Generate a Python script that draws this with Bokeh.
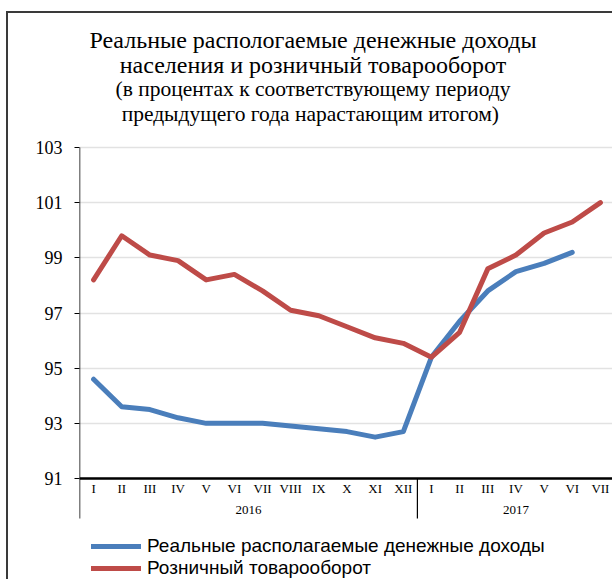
from bokeh.plotting import figure
from bokeh.models import (FactorRange, Range1d, FixedTicker, Legend, LegendItem,
                          ColumnDataSource)
from bokeh.embed import file_html
from bokeh.resources import INLINE
from bokeh.core.properties import value

# ---------------- data ----------------
years = ["2016"] * 12 + ["2017"] * 7
months = ["I", "II", "III", "IV", "V", "VI", "VII", "VIII", "IX", "X", "XI", "XII",
          "I", "II", "III", "IV", "V", "VI", "VII"]
income = [94.6, 93.6, 93.5, 93.2, 93.0, 93.0, 93.0, 92.9, 92.8, 92.7, 92.5, 92.7,
          95.4, 96.7, 97.8, 98.5, 98.8, 99.2]
retail = [98.2, 99.8, 99.1, 98.9, 98.2, 98.4, 97.8, 97.1, 96.9, 96.5, 96.1, 95.9,
          95.4, 96.3, 98.6, 99.1, 99.9, 100.3, 101.0]
y_ticks = [91, 93, 95, 97, 99, 101, 103]
year_labels = ["2016", "2017"]
title_lines = ["Реальные распологаемые денежные доходы",
               "населения и розничный товарооборот"]
subtitle_lines = ["(в процентах к соответствующему периоду",
                  "предыдущего года  нарастающим итогом)"]
legend_labels = ["Реальные располагаемые денежные доходы", "Розничный товарооборот"]

factors = list(zip(years, months))

# ---------------- geometry (page pixels) ----------------
OX, OY = 8, 13             # canvas origin on the page (after css border)
W, H = 614 - OX, 581 - OY
FRAME_L = 79               # page x of plot left edge
Y_TOP_PX, Y_BOT_PX = 147, 478   # page y of 103 and 91
ppu = (Y_BOT_PX - Y_TOP_PX) / (y_ticks[-1] - y_ticks[0])
y_end = y_ticks[-1] + (Y_TOP_PX - OY) / ppu
y_start = y_ticks[0] - (OY + H - Y_BOT_PX) / ppu
n = len(factors)
cat_px = (OX + W - FRAME_L) / n


def px_x(page_x):
    return (page_x - FRAME_L) / cat_px


def px_y(page_y):
    return y_ticks[-1] - (page_y - Y_TOP_PX) / ppu


x_range = FactorRange(factors=factors, factor_padding=0, group_padding=0,
                      subgroup_padding=0, range_padding=0)

p = figure(width=W, height=H, x_range=x_range, y_range=Range1d(y_start, y_end),
           output_backend="svg", toolbar_location=None,
           min_border_left=FRAME_L - OX, min_border_right=0,
           min_border_top=0, min_border_bottom=0)
p.styles = {"border-left": "2px solid #3a3a3a", "border-top": "2px solid #3a3a3a",
            "margin-top": "11px", "margin-left": "6px"}
p.outline_line_color = None
p.background_fill_color = "white"
p.border_fill_color = "white"

serif = "Liberation Serif"

# y axis
p.yaxis.ticker = FixedTicker(ticks=y_ticks)
p.yaxis.axis_line_color = None
p.yaxis.major_tick_out = 5
p.yaxis.major_tick_in = 0
p.yaxis.major_tick_line_color = "black"
p.yaxis.minor_tick_line_color = None
p.yaxis.major_label_text_font = serif
p.yaxis.major_label_text_font_size = "18px"
p.yaxis.major_label_text_color = "black"
p.yaxis.major_label_standoff = 12

p.ygrid.grid_line_color = "#e2e2e2"
p.ygrid.grid_line_width = 1.3
p.xgrid.grid_line_color = None

# x axis
xa = p.xaxis[0]
xa.fixed_location = y_ticks[0]
xa.axis_line_color = "black"
xa.axis_line_width = 2.5
xa.major_tick_line_color = None
xa.major_tick_out = 0
xa.major_tick_in = 0
xa.major_label_text_font = serif
xa.major_label_text_font_size = "13px"
xa.major_label_text_color = "black"
xa.major_label_standoff = 2
xa.group_text_color = None
xa.separator_line_color = None

# year (group) labels, placed at the group factor
p.text(x=year_labels, y=[px_y(509)] * len(year_labels), text=year_labels,
       text_font=value(serif), text_font_size="13px", text_color="black",
       text_align="center", text_baseline="middle")

# vertical axis line and group separators
sep_bottom = px_y(518)
n2016 = years.count("2016")
p.segment(x0=[0], y0=[sep_bottom], x1=[0], y1=[y_ticks[-1]], line_color="black",
          line_width=1.5)
p.segment(x0=[n2016], y0=[sep_bottom], x1=[n2016], y1=[y_ticks[0]],
          line_color="black", line_width=1.2)

# lines
blue = "#4A7EBB"
red = "#BE4B48"
src_inc = ColumnDataSource(dict(x=factors[:len(income)], y=income))
src_ret = ColumnDataSource(dict(x=factors[:len(retail)], y=retail))
r_inc = p.line("x", "y", source=src_inc, line_color=blue, line_width=5,
               line_cap="round", line_join="round")
r_ret = p.line("x", "y", source=src_ret, line_color=red, line_width=5,
               line_cap="round", line_join="round")

# titles
cx = px_x(312.5)
p.text(x=[cx, cx], y=[px_y(39), px_y(64)], text=title_lines,
       text_font=value(serif), text_font_size="24px", text_color="black",
       text_align="center", text_baseline="alphabetic")
p.text(x=[cx, cx], y=[px_y(88), px_y(113)], text=subtitle_lines,
       text_font=value(serif), text_font_size="21.5px", text_color="black",
       text_align="center", text_baseline="alphabetic")

legend = Legend(items=[LegendItem(label=legend_labels[0], renderers=[r_inc]),
                       LegendItem(label=legend_labels[1], renderers=[r_ret])],
                location=(12, 2), orientation="vertical")
legend.glyph_width = 50
legend.glyph_height = 22
legend.label_height = 22
legend.spacing = 0
legend.padding = 0
legend.margin = 0
legend.label_standoff = 6
legend.border_line_color = None
legend.background_fill_alpha = 0
legend.label_text_font = "'Liberation Sans Narrow', 'Liberation Sans', sans-serif"
legend.label_text_font_size = "19px"
legend.label_text_color = "black"
p.add_layout(legend)

open("out.html", "w").write(file_html(p, INLINE))
